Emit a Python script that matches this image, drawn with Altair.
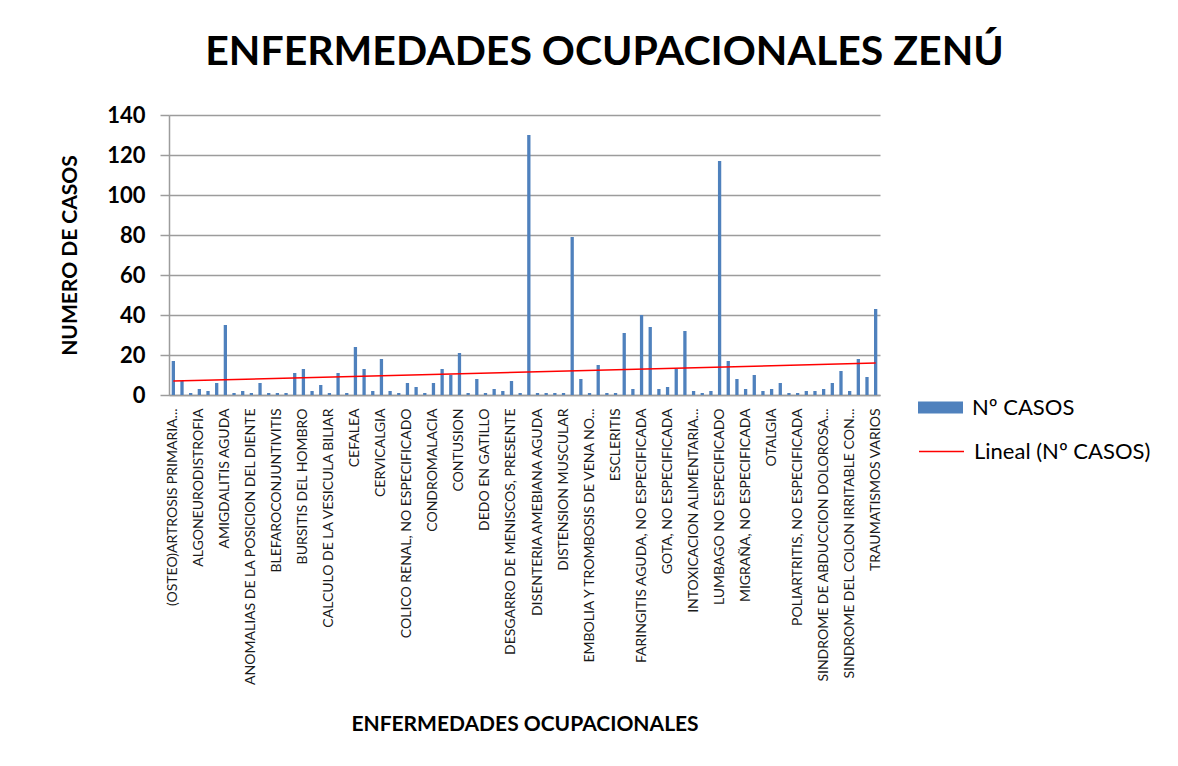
import altair as alt
import pandas as pd

# Category labels shown on the axis (every third category)
labels = [
    "(OSTEO)ARTROSIS PRIMARIA...",
    "ALGONEURODISTROFIA",
    "AMIGDALITIS AGUDA",
    "ANOMALIAS DE LA POSICION DEL DIENTE",
    "BLEFAROCONJUNTIVITIS",
    "BURSITIS DEL HOMBRO",
    "CALCULO DE LA VESICULA BILIAR",
    "CEFALEA",
    "CERVICALGIA",
    "COLICO RENAL, NO ESPECIFICADO",
    "CONDROMALACIA",
    "CONTUSION",
    "DEDO EN GATILLO",
    "DESGARRO DE MENISCOS, PRESENTE",
    "DISENTERIA AMEBIANA AGUDA",
    "DISTENSION MUSCULAR",
    "EMBOLIA Y TROMBOSIS DE VENA NO...",
    "ESCLERITIS",
    "FARINGITIS AGUDA, NO ESPECIFICADA",
    "GOTA, NO ESPECIFICADA",
    "INTOXICACION ALIMENTARIA...",
    "LUMBAGO NO ESPECIFICADO",
    "MIGRAÑA, NO ESPECIFICADA",
    "OTALGIA",
    "POLIARTRITIS, NO ESPECIFICADA",
    "SINDROME DE ABDUCCION DOLOROSA...",
    "SINDROME DEL COLON IRRITABLE CON...",
    "TRAUMATISMOS VARIOS",
]

# Number of cases per category (82 categories, in order)
casos = [
    17, 7, 1, 3, 2, 6, 35, 1, 2, 1,
    6, 1, 1, 1, 11, 13, 2, 5, 1, 11,
    1, 24, 13, 2, 18, 2, 1, 6, 4, 1,
    6, 13, 10, 21, 1, 8, 1, 3, 2, 7,
    1, 130, 1, 1, 1, 1, 79, 8, 1, 15,
    1, 1, 31, 3, 40, 34, 3, 4, 13, 32,
    2, 1, 2, 117, 17, 8, 3, 10, 2, 3,
    6, 1, 1, 2, 2, 3, 6, 12, 2, 18,
    9, 43,
]

y_ticks = [0, 20, 40, 60, 80, 100, 120, 140]

serie_barras = "Nº CASOS"
serie_linea = "Lineal (Nº CASOS)"

n = len(casos)
df = pd.DataFrame({"idx": list(range(n)), "casos": casos, "serie": serie_barras})

label_js = "[" + ",".join("'" + s + "'" for s in labels) + "]"
label_expr = label_js + "[datum.value / 3]"

FONT = "Lato"
GRID = "#9c9c9c"

x_enc = alt.X(
    "idx:O",
    scale=alt.Scale(domain=list(range(n)), paddingInner=0.62, paddingOuter=0.31),
    axis=alt.Axis(
        values=list(range(0, n, 3)),
        labelExpr=label_expr,
        labelAngle=270,
        labelFont=FONT,
        labelFontSize=14,
        labelColor="#1a1a1a",
        labelLimit=400,
        labelPadding=13,
        labelOverlap=False,
        ticks=False,
        domainColor=GRID,
        domainWidth=1.5,
        grid=False,
        title="ENFERMEDADES OCUPACIONALES",
        titleFont=FONT,
        titleFontSize=21,
        titleFontWeight="bold",
        titleColor="black",
        titleY=329,
        titleBaseline="middle",
    ),
)

y_enc = alt.Y(
    "casos:Q",
    scale=alt.Scale(domain=[0, 140], nice=False),
    axis=alt.Axis(
        values=y_ticks,
        labelOverlap=False,
        labelFont=FONT,
        labelFontSize=22,
        labelFontWeight="bold",
        labelColor="black",
        labelPadding=15,
        tickSize=9,
        tickColor=GRID,
        tickWidth=1.5,
        domainColor=GRID,
        domainWidth=1.5,
        gridColor=GRID,
        gridWidth=1.5,
        title="NUMERO DE CASOS",
        titleFont=FONT,
        titleFontSize=21,
        titleFontWeight="bold",
        titleColor="black",
        titleX=-99,
        titleBaseline="middle",
    ),
)

bars = alt.Chart(df).mark_bar().encode(
    x=x_enc,
    y=y_enc,
    color=alt.Color(
        "serie:N",
        scale=alt.Scale(domain=[serie_barras], range=["#4F81BD"]),
        legend=alt.Legend(
            title=None,
            orient="none",
            legendX=749,
            legendY=270,
            padding=0,
            symbolType="M-1,-0.27H1V0.27H-1Z",
            symbolSize=2025,
            symbolStrokeWidth=0,
            labelFont=FONT,
            labelFontSize=22,
            labelColor="black",
            labelOffset=9,
            labelLimit=300,
        ),
    ),
)

trend = (
    alt.Chart(df)
    .transform_regression("idx", "casos")
    .transform_calculate(serie2="'" + serie_linea + "'")
    .mark_line(strokeWidth=1.5)
    .encode(
        x=x_enc,
        y=y_enc,
        stroke=alt.Stroke(
            "serie2:N",
            scale=alt.Scale(domain=[serie_linea], range=["#FF0000"]),
            legend=alt.Legend(
                title=None,
                orient="none",
                legendX=749,
                legendY=313,
                padding=0,
                symbolType="stroke",
                symbolSize=2025,
                symbolStrokeWidth=1.5,
                labelFont=FONT,
                labelFontSize=22,
                labelColor="black",
                labelOffset=9,
                labelLimit=300,
            ),
        ),
    )
)

chart = (
    alt.layer(bars, trend)
    .properties(
        width=711,
        height=280,
        autosize=alt.AutoSizeParams(type="none"),
        padding={"left": 161, "top": 107, "right": 290, "bottom": 363},
        background="white",
        title=alt.Title(
            "ENFERMEDADES OCUPACIONALES ZENÚ",
            font=FONT,
            fontSize=41,
            fontWeight="bold",
            color="black",
            anchor="middle",
            frame="group",
            dx=80,
            offset=30,
        ),
    )
    .configure_view(stroke=None)
)

chart.save("out.html", embed_options={"renderer": "svg", "actions": False})
